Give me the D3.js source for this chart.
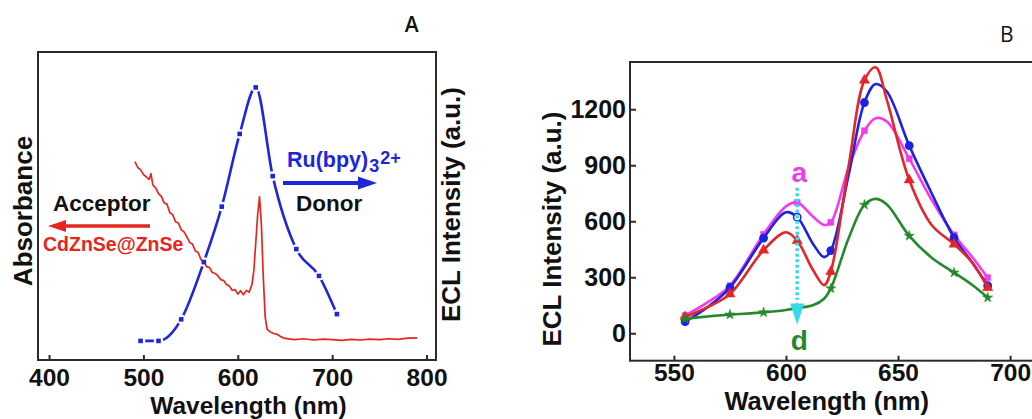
<!DOCTYPE html>
<html lang="en">
<head>
<meta charset="UTF-8">
<title>Absorbance / ECL spectra</title>
<script src="https://cdn.jsdelivr.net/npm/d3@7"></script>
<style>
  * { margin: 0; padding: 0; box-sizing: border-box; }
  body { background: #fff; width: 1032px; height: 419px; overflow: hidden; }
  svg { display: block; font-family: 'Liberation Sans', Arial, sans-serif; font-weight: bold; }
</style>
</head>
<body>
<svg id="chart" width="1032" height="419"></svg>
<script>
// ─── Data ────────────────────────────────────────────────────────────────────
// Panel A: absorbance of CdZnSe@ZnSe (acceptor), arbitrary units (0–100 = frame height)
const absWl  = [491, 494, 497, 500, 503, 506, 508, 510, 513, 516, 519, 522, 525, 528, 531, 534, 537,
                540, 543, 546, 549, 552, 555, 558, 561, 564, 567, 570, 573, 576, 579, 582, 585, 588,
                591, 594, 597, 600, 603, 606, 609, 612, 615, 617, 619, 621, 623, 625, 627, 629, 631,
                634, 638, 642, 646, 650, 660, 670, 680, 690, 700, 710, 720, 730, 740, 750, 760, 770,
                780, 790];
const absVal = [64.4, 62.5, 61.8, 60.2, 59.5, 58.6, 60.5, 56.8, 55.9, 54.0, 53.1, 51.0, 50.6, 47.8,
                47.2, 44.9, 44.5, 42.3, 41.6, 40.0, 38.2, 37.6, 35.4, 34.9, 32.6, 31.9, 30.3, 30.0,
                28.4, 28.1, 27.3, 26.1, 25.8, 24.5, 24.0, 22.6, 22.9, 21.4, 22.5, 21.2, 22.6, 22.0,
                24.5, 29.0, 38.0, 47.0, 53.0, 44.0, 27.0, 14.0, 10.0, 9.2, 8.6, 8.3, 7.5, 7.0, 6.6,
                6.9, 6.5, 6.8, 6.6, 6.4, 6.7, 6.5, 6.8, 6.6, 6.9, 6.7, 7.1, 7.2];

// Panel A: ECL of Ru(bpy)3 2+ (donor), marked points
const donorWl  = [497, 516, 540, 564, 583, 602, 619, 637, 662, 686, 705];
const donorVal = [6.2, 6.2, 13.2, 31.8, 49.8, 73.4, 88.5, 59.7, 36.0, 27.3, 14.9];

const ticksA = [400, 500, 600, 700, 800];

// Panel B: ECL intensity curves a–d
const eclWl    = [555, 565, 575, 590, 600, 605, 612, 617, 620, 628, 635, 640, 645, 655, 665, 675, 683, 690];
const markerWl = [555, 575, 590, 605, 620, 635, 655, 675, 690];
const eclA = [95, 165, 255, 530, 680, 700, 625, 580, 594, 890, 1085, 1152, 1134, 935, 715, 527, 410, 298];
const eclB = [62, 140, 245, 510, 648, 622, 480, 408, 443, 850, 1236, 1335, 1295, 1005, 750, 512, 380, 255];
const eclC = [88, 140, 210, 445, 541, 496, 340, 258, 330, 900, 1355, 1425, 1250, 821, 580, 477, 380, 244];
const eclD = [78, 90, 100, 112, 125, 135, 150, 185, 240, 510, 688, 720, 690, 522, 405, 325, 260, 191];

const ticksBx = [550, 600, 650, 700];
const ticksBy = [0, 300, 600, 900, 1200];

const svg = d3.select('#chart');
const FRAME = '#2b2b2b';

function styleAxis(g, size) {
  g.select('.domain').remove();
  g.selectAll('.tick line').attr('stroke', FRAME).attr('stroke-width', 2);
  g.selectAll('.tick text')
    .attr('fill', '#111')
    .style('font-size', size + 'px')
    .style('font-weight', 'bold')
    .style('font-family', "'Liberation Sans', Arial, sans-serif");
}

// ─── Panel A ─────────────────────────────────────────────────────────────────

const xA = d3.scaleLinear().domain([388.3, 810]).range([38, 436]);
const yA = d3.scaleLinear().domain([0, 100]).range([360, 52]);
const gA = svg.append('g');

gA.append('g')
  .attr('transform', `translate(0,${yA(0)})`)
  .call(d3.axisBottom(xA).tickValues(ticksA).tickSize(-5).tickPadding(9).tickFormat(d3.format('d')))
  .call(g => styleAxis(g, 24.5));

// donor line (dash-dot look: solid curve cut by white gaps around the dots)
const donorPts = donorWl.map((w, i) => [xA(w), yA(donorVal[i])]);
gA.append('path')
  .attr('d', d3.line().curve(d3.curveMonotoneX)(donorPts))
  .attr('fill', 'none').attr('stroke', '#1f26d9').attr('stroke-width', 2.6);
gA.selectAll('.gap').data(donorPts).enter().append('circle')
  .attr('cx', d => d[0]).attr('cy', d => d[1]).attr('r', 4.8).attr('fill', '#fff');

// acceptor absorbance
const absPts = absWl.map((w, i) => [xA(w), yA(absVal[i])]);
gA.append('path')
  .attr('d', d3.line()(absPts))
  .attr('fill', 'none').attr('stroke', '#e5261e').attr('stroke-width', 1.7).attr('stroke-linejoin', 'round');

gA.selectAll('.dot').data(donorPts).enter().append('rect')
  .attr('x', d => d[0] - 2.3).attr('y', d => d[1] - 2.3)
  .attr('width', 4.6).attr('height', 4.6).attr('fill', '#1f26d9');

gA.append('rect')
  .attr('x', 38).attr('y', 52).attr('width', 398).attr('height', 308)
  .attr('fill', 'none').attr('stroke', FRAME).attr('stroke-width', 2);

// annotations
const ru = gA.append('text').attr('x', 287).attr('y', 167).attr('fill', '#1f26d9').style('font-size', '21.5px');
ru.append('tspan').text('Ru(bpy)');
ru.append('tspan').attr('dx', 1).attr('dy', 5).style('font-size', '18px').text('3');
ru.append('tspan').attr('dx', 1).attr('dy', -8).style('font-size', '18px').text('2+');

gA.append('line').attr('x1', 283).attr('y1', 183).attr('x2', 362).attr('y2', 183)
  .attr('stroke', '#1f26d9').attr('stroke-width', 4);
gA.append('path').attr('d', 'M377,183 L358,176.5 L358,189.5 Z').attr('fill', '#1f26d9');

gA.append('text').attr('x', 296).attr('y', 211).attr('fill', '#111').style('font-size', '22.5px').text('Donor');
gA.append('text').attr('x', 53).attr('y', 211).attr('fill', '#111').style('font-size', '22.5px').text('Acceptor');

gA.append('line').attr('x1', 150).attr('y1', 226).attr('x2', 62).attr('y2', 226)
  .attr('stroke', '#e5261e').attr('stroke-width', 3.5);
gA.append('path').attr('d', 'M48,226 L66,220 L66,232 Z').attr('fill', '#e5261e');
gA.append('text').attr('x', 43).attr('y', 251).attr('fill', '#e5261e').style('font-size', '19.5px').text('CdZnSe@ZnSe');

// axis titles
gA.append('text').attr('transform', 'translate(32,211) rotate(-90)').attr('text-anchor', 'middle')
  .attr('fill', '#111').style('font-size', '26px').text('Absorbance');
gA.append('text').attr('transform', 'translate(460,204.5) rotate(-90)').attr('text-anchor', 'middle')
  .attr('fill', '#111').style('font-size', '26px').text('ECL Intensity (a.u.)');
gA.append('text').attr('x', 248.5).attr('y', 413.5).attr('text-anchor', 'middle')
  .attr('fill', '#111').style('font-size', '24.5px').text('Wavelength (nm)');

svg.append('text').attr('x', 411.7).attr('y', 32).attr('text-anchor', 'middle')
  .style('font-family', "'Open Sans', sans-serif").style('font-weight', 600).style('font-size', '21px')
  .attr('fill', '#111').text('A');

// ─── Panel B ─────────────────────────────────────────────────────────────────

const xB = d3.scaleLinear().domain([530.4, 712]).range([630, 1037]);
const yB = d3.scaleLinear().domain([-147, 1453]).range([360.7, 62]);
const gB = svg.append('g');

gB.append('g')
  .attr('transform', `translate(0,${yB.range()[0]})`)
  .call(d3.axisBottom(xB).tickValues(ticksBx).tickSize(-5).tickPadding(2.5).tickFormat(d3.format('d')))
  .call(g => styleAxis(g, 24.5));
gB.append('g')
  .attr('transform', `translate(${xB.range()[0]},0)`)
  .call(d3.axisLeft(yB).tickValues(ticksBy).tickSize(-6).tickPadding(4).tickFormat(d3.format('d')))
  .call(g => styleAxis(g, 25));

const series = [
  { vals: eclA, color: '#ef3cef', symbol: d3.symbolSquare,   size: 36 },
  { vals: eclB, color: '#1c24e0', symbol: d3.symbolCircle,   size: 42 },
  { vals: eclC, color: '#e3262b', symbol: d3.symbolTriangle, size: 46 },
  { vals: eclD, color: '#24892b', symbol: d3.symbolStar,     size: 32 },
];

const lineB = d3.line()
  .x(d => xB(d[0])).y(d => yB(d[1]))
  .curve(d3.curveCatmullRom.alpha(0.5));

series.forEach((s, si) => {
  const pts = eclWl.map((w, i) => [w, s.vals[i]]);
  gB.append('path').attr('d', lineB(pts))
    .attr('fill', 'none').attr('stroke', s.color).attr('stroke-width', 2.6);
  const marks = pts.filter(p => markerWl.includes(p[0]));
  gB.selectAll('.m' + si).data(marks).enter().append('path')
    .attr('transform', d => `translate(${xB(d[0])},${yB(d[1])})`)
    .attr('d', d3.symbol().type(s.symbol).size(s.size))
    .attr('fill', d => (si === 1 && d[0] === 605) ? '#fff' : s.color)
    .attr('stroke', s.color).attr('stroke-width', (si === 1) ? 1.5 : 0.5);
});

// a → d arrow
const arrowX = xB(605);
gB.append('line')
  .attr('x1', arrowX).attr('y1', yB(780)).attr('x2', arrowX).attr('y2', yB(180))
  .attr('stroke', '#35dbe8').attr('stroke-width', 3.5).attr('stroke-dasharray', '3,2.5');
gB.append('path')
  .attr('d', `M${arrowX - 7},${yB(160)} L${arrowX + 7},${yB(160)} L${arrowX},${yB(45)} Z`)
  .attr('fill', '#35dbe8');
gB.append('text').attr('x', arrowX + 2).attr('y', 181.7).attr('text-anchor', 'middle')
  .attr('fill', '#ef3cef').style('font-size', '28px').text('a');
gB.append('text').attr('x', arrowX + 2).attr('y', 350).attr('text-anchor', 'middle')
  .attr('fill', '#24892b').style('font-size', '28px').text('d');

// frame (left, bottom, top; right edge sits just outside the window)
gB.append('rect')
  .attr('x', 630).attr('y', 62).attr('width', 407).attr('height', 298.7)
  .attr('fill', 'none').attr('stroke', FRAME).attr('stroke-width', 2);

gB.append('text').attr('transform', 'translate(561,229) rotate(-90)').attr('text-anchor', 'middle')
  .attr('fill', '#111').style('font-size', '26px').text('ECL Intensity (a.u.)');
gB.append('text').attr('x', 826.7).attr('y', 409.5).attr('text-anchor', 'middle')
  .attr('fill', '#111').style('font-size', '25.5px').text('Wavelength (nm)');

svg.append('text').attr('x', 1006.7).attr('y', 41.5).attr('text-anchor', 'middle')
  .style('font-family', "'Open Sans', sans-serif").style('font-weight', 400).style('font-size', '21px')
  .attr('fill', '#111').text('B');
</script>
</body>
</html>
